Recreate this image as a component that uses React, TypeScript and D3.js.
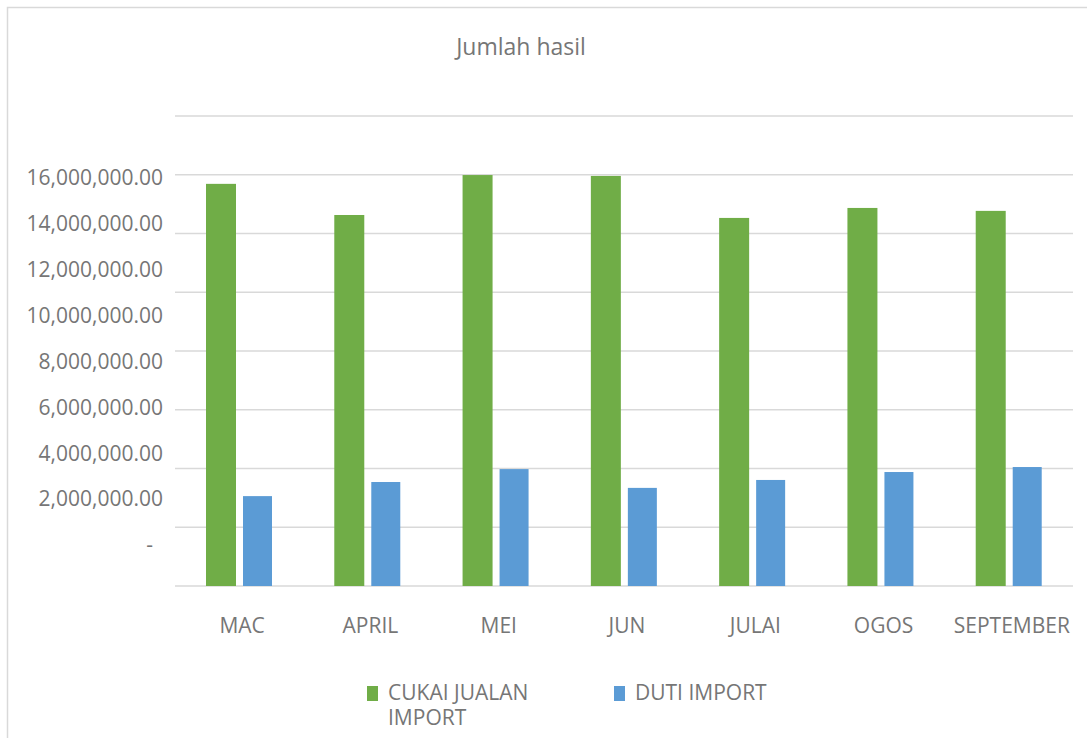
import React, { useEffect, useRef } from 'react';
import * as d3 from 'd3';

const months = ['MAC', 'APRIL', 'MEI', 'JUN', 'JULAI', 'OGOS', 'SEPTEMBER'];
const cukaiJualan = [13690000, 12630000, 13990000, 13960000, 12530000, 12870000, 12770000];
const dutiImport = [3060000, 3540000, 3980000, 3340000, 3610000, 3880000, 4050000];
const yTicks = [0, 2000000, 4000000, 6000000, 8000000, 10000000, 12000000, 14000000, 16000000];
const seriesNames = ['CUKAI JUALAN', 'DUTI IMPORT'];
const seriesColors = ['#70AD47', '#5B9BD5'];

const App: React.FC = () => {
  const svgRef = useRef<SVGSVGElement>(null);

  useEffect(() => {
    if (!svgRef.current) return;
    const width = 1087;
    const height = 738;
    const font = '"Open Sans", sans-serif';
    const textColor = '#767676';

    const svg = d3.select(svgRef.current);
    svg.selectAll('*').remove();
    svg.attr('width', width).attr('height', height);

    // chart frame (right and bottom edges fall outside the picture)
    svg.append('path')
      .attr('d', `M7.5,${height} V7.5 H${width}`)
      .attr('fill', 'none')
      .attr('stroke', '#d9d9d9')
      .attr('stroke-width', 1.5);

    const x = d3.scaleBand<string>().domain(months).range([175, 1073]);
    const y = d3.scaleLinear().domain([0, 16000000]).range([586, 116]);
    // labels sit on their own (compressed) spacing, as in the original
    const yLabel = d3.scaleLinear().domain([0, 16000000]).range([545, 178]);

    // gridlines: one per 2M step
    const gridVals = d3.range(0, 16000001, 2000000);
    svg.append('g')
      .selectAll('line')
      .data(gridVals)
      .join('line')
      .attr('x1', 175)
      .attr('x2', 1073)
      .attr('y1', d => y(d))
      .attr('y2', d => y(d))
      .attr('stroke', '#d9d9d9')
      .attr('stroke-width', 1.5);

    const fmt = d3.format(',.2f');
    svg.append('g')
      .selectAll('text')
      .data(yTicks)
      .join('text')
      .attr('x', d => (d === 0 ? 153 : 163))
      .attr('y', d => yLabel(d))
      .attr('dy', '0.35em')
      .attr('text-anchor', 'end')
      .attr('font-family', font)
      .attr('font-size', 21)
      .attr('fill', textColor)
      .text(d => (d === 0 ? '-' : fmt(d)));

    // bars
    const pad = 31;
    const barW = 30;
    const gap = 7;
    const groups = svg.append('g')
      .selectAll('g')
      .data(months)
      .join('g')
      .attr('transform', d => `translate(${x(d)},0)`);

    groups.append('rect')
      .attr('x', pad)
      .attr('width', barW)
      .attr('y', (_, i) => y(cukaiJualan[i]))
      .attr('height', (_, i) => y(0) - y(cukaiJualan[i]))
      .attr('fill', seriesColors[0]);

    groups.append('rect')
      .attr('x', pad + barW + gap)
      .attr('width', barW - 1)
      .attr('y', (_, i) => y(dutiImport[i]))
      .attr('height', (_, i) => y(0) - y(dutiImport[i]))
      .attr('fill', seriesColors[1]);

    // category labels
    svg.append('g')
      .selectAll('text')
      .data(months)
      .join('text')
      .attr('x', d => (x(d) as number) + x.bandwidth() / 2 + 3)
      .attr('y', 626)
      .attr('dy', '0.35em')
      .attr('text-anchor', 'middle')
      .attr('font-family', font)
      .attr('font-size', 21)
      .attr('fill', textColor)
      .text(d => d);

    // title
    svg.append('text')
      .attr('x', 521)
      .attr('y', 47)
      .attr('dy', '0.35em')
      .attr('text-anchor', 'middle')
      .attr('font-family', font)
      .attr('font-size', 23)
      .attr('fill', textColor)
      .text('Jumlah hasil');

    // legend
    const legendX = [367, 614];
    const legendLines = [['CUKAI JUALAN', 'IMPORT'], ['DUTI IMPORT']];
    seriesNames.forEach((_, i) => {
      svg.append('rect')
        .attr('x', legendX[i])
        .attr('y', 686)
        .attr('width', 11)
        .attr('height', 15)
        .attr('fill', seriesColors[i]);
      const t = svg.append('text')
        .attr('font-family', font)
        .attr('font-size', 21)
        .attr('fill', textColor);
      legendLines[i].forEach((line, j) => {
        t.append('tspan')
          .attr('x', legendX[i] + 21)
          .attr('y', 693 + j * 25)
          .attr('dy', '0.35em')
          .text(line);
      });
    });
  }, []);

  return (
    <svg
      ref={svgRef}
      style={{ position: 'absolute', left: 0, top: 0, display: 'block', background: '#fff' }}
    />
  );
};

export default App;
